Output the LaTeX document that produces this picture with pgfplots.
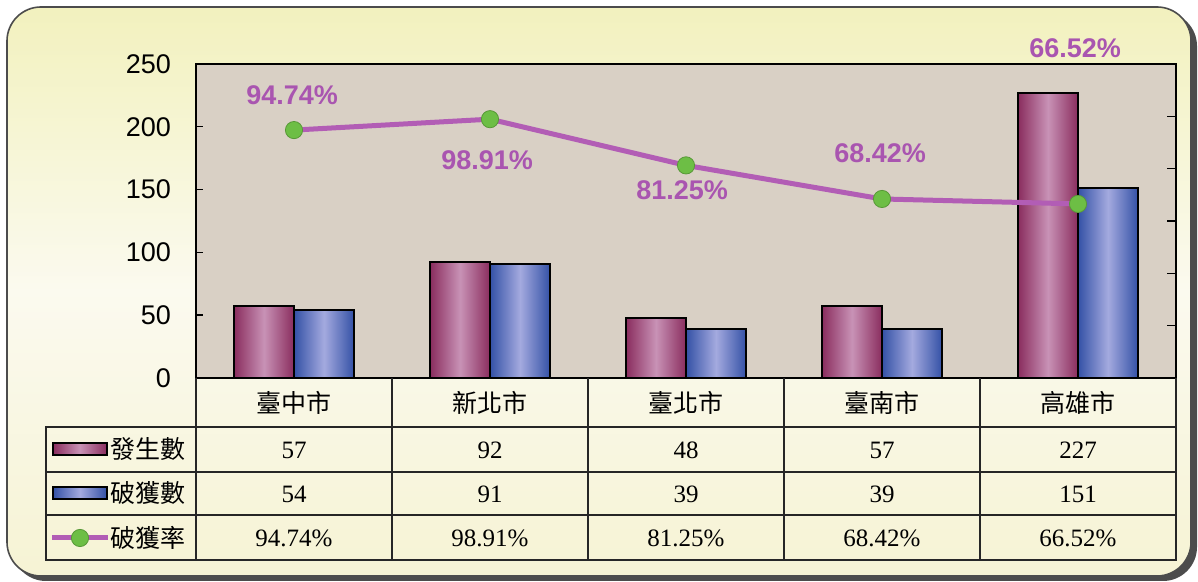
\documentclass[border=0pt]{standalone}
\usepackage{pgfplots}
\pgfplotsset{compat=1.18}
\usepackage{fontspec}
\setmainfont{Liberation Serif}
\newfontfamily\arial{Liberation Sans}
\newfontfamily\cjk{Noto Sans CJK TC}
\definecolor{frameTop}{HTML}{F2F1BE}
\definecolor{frameMid}{HTML}{FBFAEF}
\definecolor{frameBot}{HTML}{F6F3D4}
\definecolor{plotbg}{HTML}{D9D0C5}
\definecolor{marDark}{HTML}{8A2D5E}
\definecolor{marLight}{HTML}{C892B6}
\definecolor{bluDark}{HTML}{3451A6}
\definecolor{bluLight}{HTML}{A4AADF}
\definecolor{linePurple}{HTML}{B25DB5}
\definecolor{labPurple}{HTML}{A955B0}
\definecolor{dotGreen}{HTML}{6DBE45}
% one shaded bar per path: #1 shift, #2 dark, #3 light, #4 coordinate
\newcommand\sbar[4]{\addplot[bar shift=#1, draw=black, line width=1pt,
  left color=#2, right color=#2, middle color=#3] coordinates {#4};}
\begin{document}
\begin{tikzpicture}[x=0.5pt,y=0.5pt]
\useasboundingbox (0,0) rectangle (1198,582);
% frame with shadow
\fill[black!70, rounded corners=17pt] (12,1) rectangle (1197,570);
\shade[top color=frameTop, bottom color=frameBot, middle color=frameMid, rounded corners=17pt]
  (7,6) rectangle (1191,575);
\draw[gray!60!black, line width=0.8pt, rounded corners=17pt] (7,6) rectangle (1191,575);

\begin{axis}[
  at={(98pt,102pt)}, anchor=south west,
  width=490pt, height=157pt, scale only axis,
  xmin=-0.5, xmax=4.5, ymin=0, ymax=250,
  ytick={0,50,...,250}, xtick=\empty,
  ytick pos=left, tick align=inside,
  major tick length=3.5pt,
  tick style={black, line width=0.7pt},
  axis background/.style={fill=plotbg},
  axis line style={black, line width=0.8pt},
  yticklabel style={font=\arial\fontsize{13.5}{14}\selectfont, anchor=east, xshift=-9pt},
  /pgf/number format/assume math mode=true,
  ybar, bar width=30pt, clip=false,
]
% 發生數
\sbar{-15pt}{marDark}{marLight}{(0,57)}
\sbar{-15pt}{marDark}{marLight}{(1,92)}
\sbar{-15pt}{marDark}{marLight}{(2,48)}
\sbar{-15pt}{marDark}{marLight}{(3,57)}
\sbar{-15pt}{marDark}{marLight}{(4,227)}
% 破獲數
\sbar{15pt}{bluDark}{bluLight}{(0,54)}
\sbar{15pt}{bluDark}{bluLight}{(1,91)}
\sbar{15pt}{bluDark}{bluLight}{(2,39)}
\sbar{15pt}{bluDark}{bluLight}{(3,39)}
\sbar{15pt}{bluDark}{bluLight}{(4,151)}
\end{axis}

\begin{axis}[
  at={(98pt,102pt)}, anchor=south west,
  width=490pt, height=157pt, scale only axis,
  xmin=-0.5, xmax=4.5, ymin=0, ymax=120,
  ytick={0,20,...,120}, yticklabels={},
  axis x line=none, axis y line*=right,
  tick align=inside, major tick length=4.5pt,
  tick style={black, line width=0.7pt},
  axis line style={black, line width=0.8pt},
  clip=false,
]
\addplot[color=linePurple, line width=2.5pt, mark=*, mark size=4.3pt,
  mark options={fill=dotGreen, draw=dotGreen!80!black, line width=0.4pt}]
  coordinates {(0,94.74) (1,98.91) (2,81.25) (3,68.42) (4,66.52)};
\addplot[draw=none, mark=none, nodes near coords, point meta=explicit symbolic,
  nodes near coords style={font=\arial\bfseries\fontsize{13.5}{14}\selectfont, text=labPurple, anchor=center, inner sep=0pt}]
  coordinates {(-0.01,108.1) [94.74\%] (0.985,83.3) [98.91\%] (1.98,71.8) [81.25\%] (2.99,85.9) [68.42\%] (3.985,126.1) [66.52\%]};
\end{axis}

% data table
\draw[black!85, line width=0.8pt] (196,204) -- (196,22) -- (1176,22) -- (1176,204);
\draw[black!85, line width=0.8pt] (46,155) rectangle (1176,22);
\draw[black!85, line width=0.8pt] (46,110) -- (1176,110);
\draw[black!85, line width=0.8pt] (46,67) -- (1176,67);
\foreach \xx in {392,588,784,980}{\draw[black!85, line width=0.8pt] (\xx,204) -- (\xx,22);}
\foreach \c [count=\i from 0] in {臺中市,新北市,臺北市,臺南市,高雄市}{
  \node[font=\cjk\fontsize{12.5}{13}\selectfont] at (294+196*\i,179) {\c};}
\foreach \v [count=\i from 0] in {57,92,48,57,227}{
  \node[font=\fontsize{12.5}{13}\selectfont] at (294+196*\i,132) {\v};}
\foreach \v [count=\i from 0] in {54,91,39,39,151}{
  \node[font=\fontsize{12.5}{13}\selectfont] at (294+196*\i,88) {\v};}
\foreach \v [count=\i from 0] in {94.74\%,98.91\%,81.25\%,68.42\%,66.52\%}{
  \node[font=\fontsize{12.5}{13}\selectfont] at (294+196*\i,44) {\v};}
% legend keys
\shade[left color=marDark, right color=marDark, middle color=marLight] (53,127) rectangle (107,139);
\draw[black, line width=0.8pt] (53,127) rectangle (107,139);
\shade[left color=bluDark, right color=bluDark, middle color=bluLight] (53,83) rectangle (107,95);
\draw[black, line width=0.8pt] (53,83) rectangle (107,95);
\draw[linePurple, line width=2.5pt] (52,44) -- (108,44);
\fill[dotGreen, draw=dotGreen!80!black, line width=0.4pt] (80,44) circle (4.3pt);
\node[font=\cjk\fontsize{12.5}{13}\selectfont, anchor=west, inner sep=0pt] at (110,133) {發生數};
\node[font=\cjk\fontsize{12.5}{13}\selectfont, anchor=west, inner sep=0pt] at (110,89) {破獲數};
\node[font=\cjk\fontsize{12.5}{13}\selectfont, anchor=west, inner sep=0pt] at (110,44) {破獲率};
\end{tikzpicture}
\end{document}
